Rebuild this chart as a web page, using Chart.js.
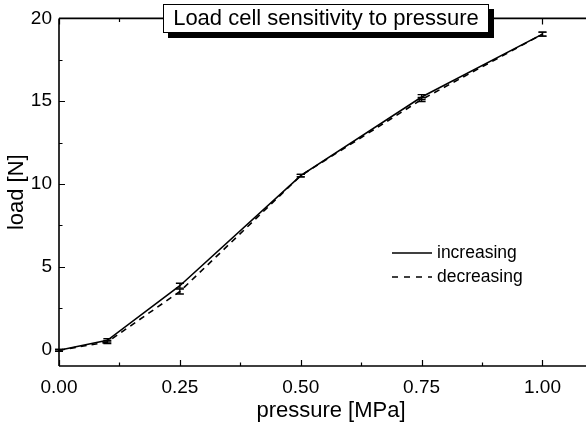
<!DOCTYPE html>
<html>
<head>
<meta charset="utf-8">
<script src="https://cdn.jsdelivr.net/npm/chart.js@4"></script>
<style>
  body { margin: 0; background: #fff; }
  #wrap { width: 586px; height: 425px; }
</style>
</head>
<body>
<div id="wrap"><canvas id="loadChart" width="586" height="425"></canvas></div>
<script>
// data
var pressure = [0, 0.1, 0.25, 0.5, 0.75, 1.0];
var loadIncreasing = [-0.05, 0.55, 3.85, 10.5, 15.25, 19.05];
var errIncreasing = [0.06, 0.1, 0.15, 0.08, 0.15, 0.12];
var loadDecreasing = [-0.05, 0.45, 3.5, 10.5, 15.1, 19.05];
var errDecreasing = [0.06, 0.1, 0.15, 0.08, 0.12, 0.12];

var xMajorTicks = [0, 0.25, 0.5, 0.75, 1.0];
var xMinorTicks = [0.125, 0.375, 0.625, 0.875];
var yMajorTicks = [0, 5, 10, 15, 20];
var yMinorTicks = [2.5, 7.5, 12.5, 17.5];

var FONT = 'Liberation Sans, Arial, Helvetica, sans-serif';

function toPoints(xs, ys) {
    return xs.map(function (x, i) { return { x: x, y: ys[i] }; });
}

// axis frame with inward ticks, error bars, legend, title box
var decorations = {
    id: 'decorations',
    afterDatasetsDraw: function (chart) {
        var ctx = chart.ctx;
        var a = chart.chartArea;
        var xs = chart.scales.x, ys = chart.scales.y;

        // error bars
        ctx.save();
        ctx.strokeStyle = '#000';
        ctx.lineWidth = 1.3;
        [[loadIncreasing, errIncreasing], [loadDecreasing, errDecreasing]].forEach(function (s) {
            pressure.forEach(function (p, i) {
                var px = xs.getPixelForValue(p);
                var top = ys.getPixelForValue(s[0][i] + s[1][i]);
                var bot = ys.getPixelForValue(s[0][i] - s[1][i]);
                ctx.beginPath();
                ctx.moveTo(px, top); ctx.lineTo(px, bot);
                ctx.moveTo(px - 4, top); ctx.lineTo(px + 4, top);
                ctx.moveTo(px - 4, bot); ctx.lineTo(px + 4, bot);
                ctx.stroke();
            });
        });
        ctx.restore();

        // axes
        ctx.save();
        ctx.strokeStyle = '#000';
        ctx.lineWidth = 1.6;
        ctx.beginPath();
        ctx.moveTo(a.left, a.top); ctx.lineTo(a.right, a.top);
        ctx.moveTo(a.left, a.top); ctx.lineTo(a.left, a.bottom);
        ctx.moveTo(a.left, a.bottom); ctx.lineTo(a.right, a.bottom);
        ctx.stroke();

        ctx.lineWidth = 1.2;
        ctx.beginPath();
        xMajorTicks.concat(xMinorTicks).forEach(function (v) {
            var len = xMajorTicks.indexOf(v) >= 0 ? 6 : 3.5;
            var px = Math.round(xs.getPixelForValue(v)) + 0.5;
            ctx.moveTo(px, a.bottom); ctx.lineTo(px, a.bottom - len);
            ctx.moveTo(px, a.top); ctx.lineTo(px, a.top + len);
        });
        yMajorTicks.concat(yMinorTicks).forEach(function (v) {
            var len = yMajorTicks.indexOf(v) >= 0 ? 6 : 3.5;
            var py = Math.round(ys.getPixelForValue(v)) + 0.5;
            ctx.moveTo(a.left, py); ctx.lineTo(a.left + len, py);
        });
        ctx.stroke();
        ctx.restore();

        // x axis title (slightly right of centre, as in the original)
        ctx.save();
        ctx.fillStyle = '#000';
        ctx.font = '22px ' + FONT;
        ctx.textAlign = 'center';
        ctx.textBaseline = 'middle';
        ctx.fillText('pressure [MPa]', 331, 411);
        ctx.restore();

        // legend
        ctx.save();
        ctx.strokeStyle = '#000';
        ctx.lineWidth = 1.6;
        ctx.beginPath();
        ctx.moveTo(392, 253); ctx.lineTo(432, 253);
        ctx.stroke();
        ctx.setLineDash([6, 6]);
        ctx.beginPath();
        ctx.moveTo(392, 277); ctx.lineTo(432, 277);
        ctx.stroke();
        ctx.setLineDash([]);
        ctx.fillStyle = '#000';
        ctx.font = '17.5px ' + FONT;
        ctx.textBaseline = 'middle';
        ctx.textAlign = 'left';
        ctx.fillText(chart.data.datasets[0].label, 437, 253);
        ctx.fillText(chart.data.datasets[1].label, 437, 277);
        ctx.restore();

        // title box with shadow
        ctx.save();
        ctx.fillStyle = '#000';
        ctx.fillRect(168, 9, 326, 29);
        ctx.fillStyle = '#fff';
        ctx.fillRect(163, 4, 326, 29);
        ctx.strokeStyle = '#000';
        ctx.lineWidth = 1;
        ctx.strokeRect(163.5, 4.5, 325, 28);
        ctx.fillStyle = '#000';
        ctx.font = '22px ' + FONT;
        ctx.textAlign = 'center';
        ctx.textBaseline = 'middle';
        ctx.fillText('Load cell sensitivity to pressure', 326, 19);
        ctx.restore();
    }
};

var ctx = document.getElementById('loadChart').getContext('2d');
var myChart = new Chart(ctx, {
    type: 'line',
    data: {
        datasets: [{
            label: 'increasing',
            data: toPoints(pressure, loadIncreasing),
            borderColor: '#000',
            borderWidth: 1.6,
            pointRadius: 0,
            clip: false
        }, {
            label: 'decreasing',
            data: toPoints(pressure, loadDecreasing),
            borderColor: '#000',
            borderWidth: 1.6,
            borderDash: [6, 5],
            pointRadius: 0,
            clip: false
        }]
    },
    options: {
        responsive: false,
        devicePixelRatio: 1,
        animation: false,
        layout: { padding: { top: 18, right: 0, left: 0, bottom: 0 } },
        plugins: {
            legend: { display: false },
            tooltip: { enabled: false }
        },
        scales: {
            x: {
                type: 'linear',
                min: 0,
                max: 1.09,
                grid: { display: false, drawTicks: false },
                border: { display: false },
                afterBuildTicks: function (scale) {
                    scale.ticks = xMajorTicks.map(function (v) { return { value: v }; });
                },
                afterFit: function (scale) { scale.height = 59; },
                ticks: {
                    color: '#000',
                    font: { family: FONT, size: 19 },
                    padding: 10,
                    maxRotation: 0,
                    callback: function (v) { return Number(v).toFixed(2); }
                }
            },
            y: {
                type: 'linear',
                min: -1,
                max: 20,
                grid: { display: false, drawTicks: false },
                border: { display: false },
                afterBuildTicks: function (scale) {
                    scale.ticks = yMajorTicks.map(function (v) { return { value: v }; });
                },
                afterFit: function (scale) { scale.width = 59; },
                ticks: {
                    color: '#000',
                    font: { family: FONT, size: 19 },
                    padding: 7
                },
                title: {
                    display: true,
                    text: 'load [N]',
                    color: '#000',
                    font: { family: FONT, size: 22 },
                    padding: { top: 4, bottom: 0 }
                }
            }
        }
    },
    plugins: [decorations]
});
</script>
</body>
</html>
